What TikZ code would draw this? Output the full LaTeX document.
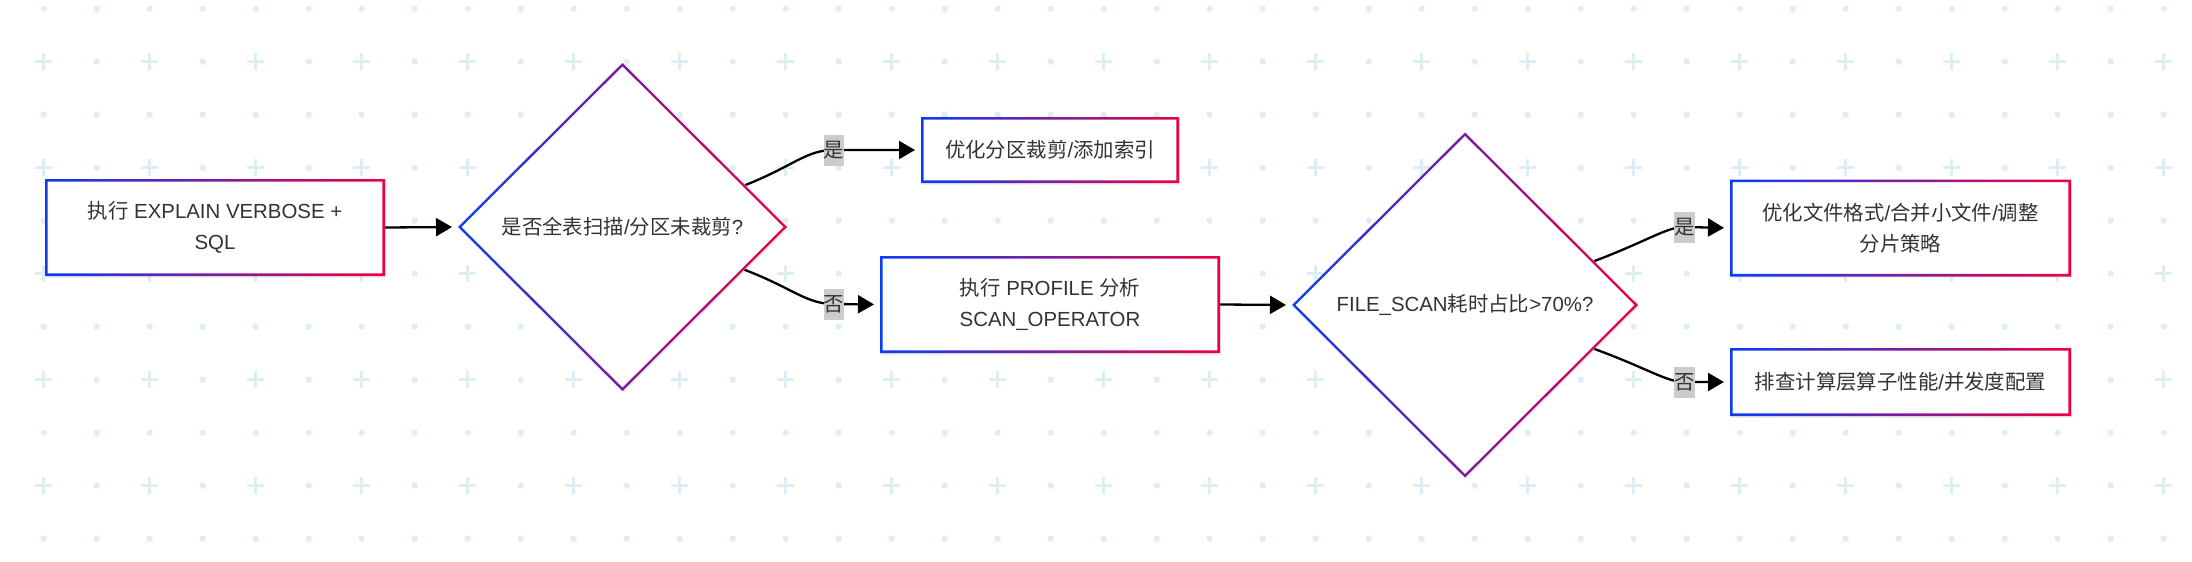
\documentclass[tikz,border=0pt]{standalone}
\usepackage{fontspec}
\setmainfont{Liberation Sans}
\newfontfamily\cjk{Noto Sans CJK SC}
\usetikzlibrary{arrows.meta,calc,shapes.geometric,shadows}
\definecolor{cb}{RGB}{10,60,245}
\definecolor{cr}{RGB}{238,0,68}
\definecolor{gridc}{RGB}{221,239,242}
\definecolor{txt}{RGB}{51,51,51}
\definecolor{lblbg}{RGB}{204,204,204}
\pgfdeclarelayer{bg}\pgfdeclarelayer{edgelayer}\pgfsetlayers{bg,edgelayer,main}
\tikzset{
 nodebase/.style={font=\fontsize{10.2pt}{15.5pt}\selectfont, text=txt, align=center, inner sep=0pt, outer sep=0pt, fill=white,
   drop shadow={opacity=0.12,shadow xshift=0.6pt,shadow yshift=-0.9pt}},
 procbox/.style={nodebase, shape=rectangle, minimum width=170pt, minimum height=48.5pt},
 smallbox/.style={nodebase, shape=rectangle, minimum width=129pt, minimum height=33pt},
 decision/.style={nodebase, shape=diamond},
 lbl/.style={fill=lblbg, text=txt, font=\fontsize{10.2pt}{12pt}\selectfont\cjk, inner sep=0pt, minimum width=10pt, minimum height=15.5pt},
 conn/.style={draw=black, line width=1.15pt, -{Triangle[length=8pt,width=9pt]}, shorten >=3pt},
}
\newcommand\boxring[1]{\shade[left color=cb,right color=cr,even odd rule] (#1.south west) rectangle (#1.north east) ($(#1.south west)+(2.6,-2.6)$) rectangle ($(#1.north east)+(-2.6,2.6)$);}
\newcommand\diaring[1]{\shade[left color=cb,right color=cr,even odd rule] (#1.west)--(#1.north)--(#1.east)--(#1.south)--cycle ($(#1.west)+(3.3,0)$)--($(#1.north)+(0,3.3)$)--($(#1.east)+(-3.3,0)$)--($(#1.south)+(0,-3.3)$)--cycle;}
\begin{document}
\begin{tikzpicture}[x=0.5pt,y=-0.5pt]
\useasboundingbox (0,0) rectangle (2192,562);
\begin{pgfonlayer}{bg}
\fill[white] (0,0) rectangle (2192,562);
\foreach \r in {0,2,...,10}{\foreach \c in {0,...,40}{\fill[gridc] ({43.7+53*\c},{8.7+53*\r}) circle (1.6pt);}}
\foreach \r in {1,3,...,9}{\foreach \c in {1,3,...,39}{\fill[gridc] ({43.7+53*\c},{8.7+53*\r}) circle (1.6pt);}}
\foreach \r in {1,3,...,9}{\foreach \c in {0,2,...,40}{\draw[gridc,line width=1.65pt] ({43.7+53*\c-8.5},{8.7+53*\r}) -- ++(17,0) ({43.7+53*\c},{8.7+53*\r-8.5}) -- ++(0,17);}}
\end{pgfonlayer}

\node[procbox] (b1) at (215,227.5) {{\cjk 执行} EXPLAIN VERBOSE +\\SQL};
\node[decision, minimum width=164.5pt, minimum height=164pt] (d1) at (622.5,227) {{\cjk 是否全表扫描}/{\cjk 分区未裁剪}?};
\node[smallbox] (b2) at (1050,150) {{\cjk 优化分区裁剪}/{\cjk 添加索引}};
\node[procbox] (b3) at (1050,304.5) {{\cjk 执行} PROFILE {\cjk 分析}\\SCAN\_OPERATOR};
\node[decision, minimum width=173pt, minimum height=172.5pt] (d2) at (1465,305) {FILE\_SCAN{\cjk 耗时占比}>70\%?};
\node[procbox, minimum width=170.5pt] (b4) at (1900.5,228) {{\cjk 优化文件格式}/{\cjk 合并小文件}/{\cjk 调整}\\{\cjk 分片策略}};
\node[smallbox, minimum width=170.5pt, minimum height=34pt] (b5) at (1900.5,382) {{\cjk 排查计算层算子性能}/{\cjk 并发度配置}};

\boxring{b1}\boxring{b2}\boxring{b3}\boxring{b4}\boxring{b5}
\diaring{d1}\diaring{d2}

\node[lbl] (l1) at (834,150) {是};
\node[lbl] (l2) at (834,304) {否};
\node[lbl] (l3) at (1684.5,227) {是};
\node[lbl] (l4) at (1684.5,382) {否};

\coordinate (s1) at ($(d1.north)!0.745!(d1.east)$);
\coordinate (s2) at ($(d1.south)!0.74!(d1.east)$);
\coordinate (s3) at ($(d2.north)!0.746!(d2.east)$);
\coordinate (s4) at ($(d2.south)!0.746!(d2.east)$);

\begin{pgfonlayer}{edgelayer}
\draw[conn] (b1.east) -- (d1.west);
\draw[conn] (s1) .. controls ($(s1)!0.55!(l1)$) and ($(l1)+(-28,0)$) .. (l1.center) -- (b2.west);
\draw[conn] (s2) .. controls ($(s2)!0.55!(l2)$) and ($(l2)+(-28,0)$) .. (l2.center) -- (b3.west);
\draw[conn] (b3.east) -- (d2.west);
\draw[conn] (s3) .. controls ($(s3)!0.6!(l3)$) and ($(l3)+(-18,0)$) .. (l3.center) -- (b4.west);
\draw[conn] (s4) .. controls ($(s4)!0.6!(l4)$) and ($(l4)+(-18,0)$) .. (l4.center) -- (b5.west);
\end{pgfonlayer}
\end{tikzpicture}
\end{document}
